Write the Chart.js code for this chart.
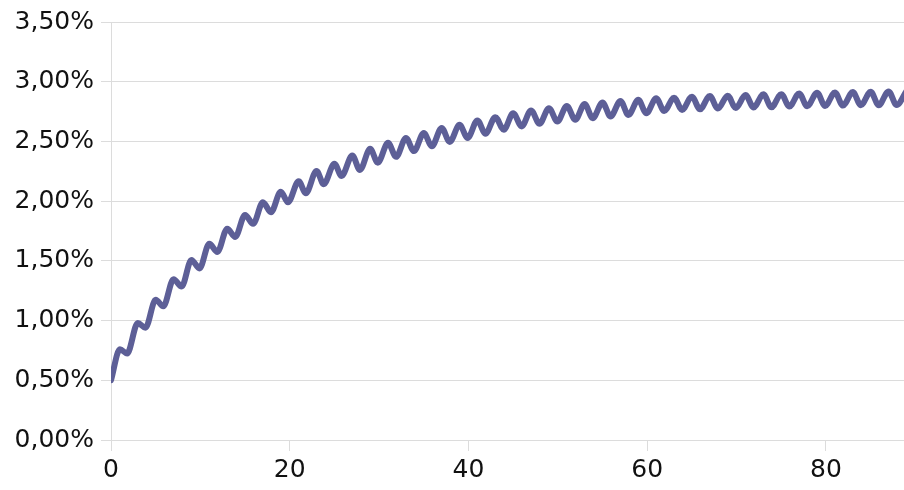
<!DOCTYPE html>
<html lang="en">
<head>
    <meta charset="UTF-8">
    <title>Concentration curve</title>
    <script src="https://cdn.jsdelivr.net/npm/chart.js"></script>
    <style>
        html, body { margin: 0; padding: 0; background: #fff; }
        .chart-container { width: 904px; height: 490px; position: relative; }
    </style>
</head>
<body>
<div class="chart-container">
    <canvas id="curve-chart"></canvas>
</div>
<script>
// time points (peaks and troughs)
const hours = [
    0, 1, 1.8, 3, 3.85, 5, 5.85, 7, 7.9, 9, 9.9, 11, 11.9, 13, 13.9, 15, 15.9, 17, 17.9, 19, 19.8,
    21, 21.8, 23, 23.8, 25, 25.8, 27, 27.85, 29, 29.85, 31, 31.9, 33, 33.9, 35, 35.9, 37, 37.9, 39, 39.9,
    41, 41.9, 43, 43.95, 45, 45.95, 47, 47.95, 49, 49.95, 51, 51.95, 53, 53.9, 55, 55.9, 57, 57.9, 59, 59.9,
    61, 61.9, 63, 63.9, 65, 65.9, 67, 67.9, 69, 69.9, 71, 71.9, 73, 73.9, 75, 75.9, 77, 77.9, 79, 79.9,
    81, 81.9, 83, 83.9, 85, 85.9, 87, 87.9, 89
];
// values in percent
const values = [
    0.50, 0.76, 0.724, 0.98, 0.94, 1.175, 1.119, 1.346, 1.285, 1.507, 1.437, 1.644, 1.575, 1.769, 1.70, 1.885, 1.81, 1.99, 1.907, 2.079, 1.99,
    2.166, 2.066, 2.253, 2.142, 2.313, 2.211, 2.382, 2.261, 2.438, 2.322, 2.488, 2.371, 2.529, 2.419, 2.570, 2.460, 2.612, 2.496, 2.639, 2.529,
    2.676, 2.565, 2.703, 2.598, 2.736, 2.626, 2.759, 2.648, 2.778, 2.667, 2.797, 2.681, 2.813, 2.695, 2.825, 2.709, 2.838, 2.722, 2.848, 2.736,
    2.861, 2.755, 2.866, 2.764, 2.875, 2.769, 2.880, 2.775, 2.883, 2.780, 2.888, 2.784, 2.894, 2.786, 2.896, 2.792, 2.902, 2.794, 2.908, 2.797,
    2.910, 2.800, 2.913, 2.803, 2.916, 2.803, 2.919, 2.805, 2.921
];
const xTicks = [0, 20, 40, 60, 80];
const yTicks = [0, 0.5, 1, 1.5, 2, 2.5, 3, 3.5];

const gridColor = '#dcdcdc';
const points = hours.map((h, i) => ({ x: h, y: values[i] }));

new Chart(document.getElementById('curve-chart'), {
    type: 'line',
    data: {
        datasets: [{
            data: points,
            borderColor: '#5d5f97',
            borderWidth: 6,
            pointRadius: 0,
            fill: false,
            cubicInterpolationMode: 'monotone',
            borderCapStyle: 'round',
            clip: 0
        }]
    },
    options: {
        responsive: true,
        maintainAspectRatio: false,
        animation: false,
        layout: { padding: { top: 18, right: 0, left: 0, bottom: 0 } },
        plugins: { legend: { display: false }, tooltip: { enabled: false } },
        scales: {
            x: {
                type: 'linear',
                min: 0,
                max: 88.73,
                afterBuildTicks: s => { s.ticks = xTicks.map(v => ({ value: v })); },
                afterFit: s => { s.height = 50; },
                grid: { display: true, drawOnChartArea: false, color: gridColor, tickLength: 11 },
                border: { color: gridColor },
                ticks: {
                    color: '#111',
                    font: { family: 'DejaVu Sans', size: 25 },
                    padding: 4,
                    maxRotation: 0
                }
            },
            y: {
                min: 0,
                max: 3.5,
                afterBuildTicks: s => { s.ticks = yTicks.map(v => ({ value: v })); },
                afterFit: s => { s.width = 111; },
                grid: { color: gridColor, tickLength: 10 },
                border: { color: gridColor },
                ticks: {
                    color: '#111',
                    font: { family: 'DejaVu Sans', size: 25 },
                    padding: 7,
                    callback: v => v.toFixed(2).replace('.', ',') + '%'
                }
            }
        }
    }
});
</script>
</body>
</html>
